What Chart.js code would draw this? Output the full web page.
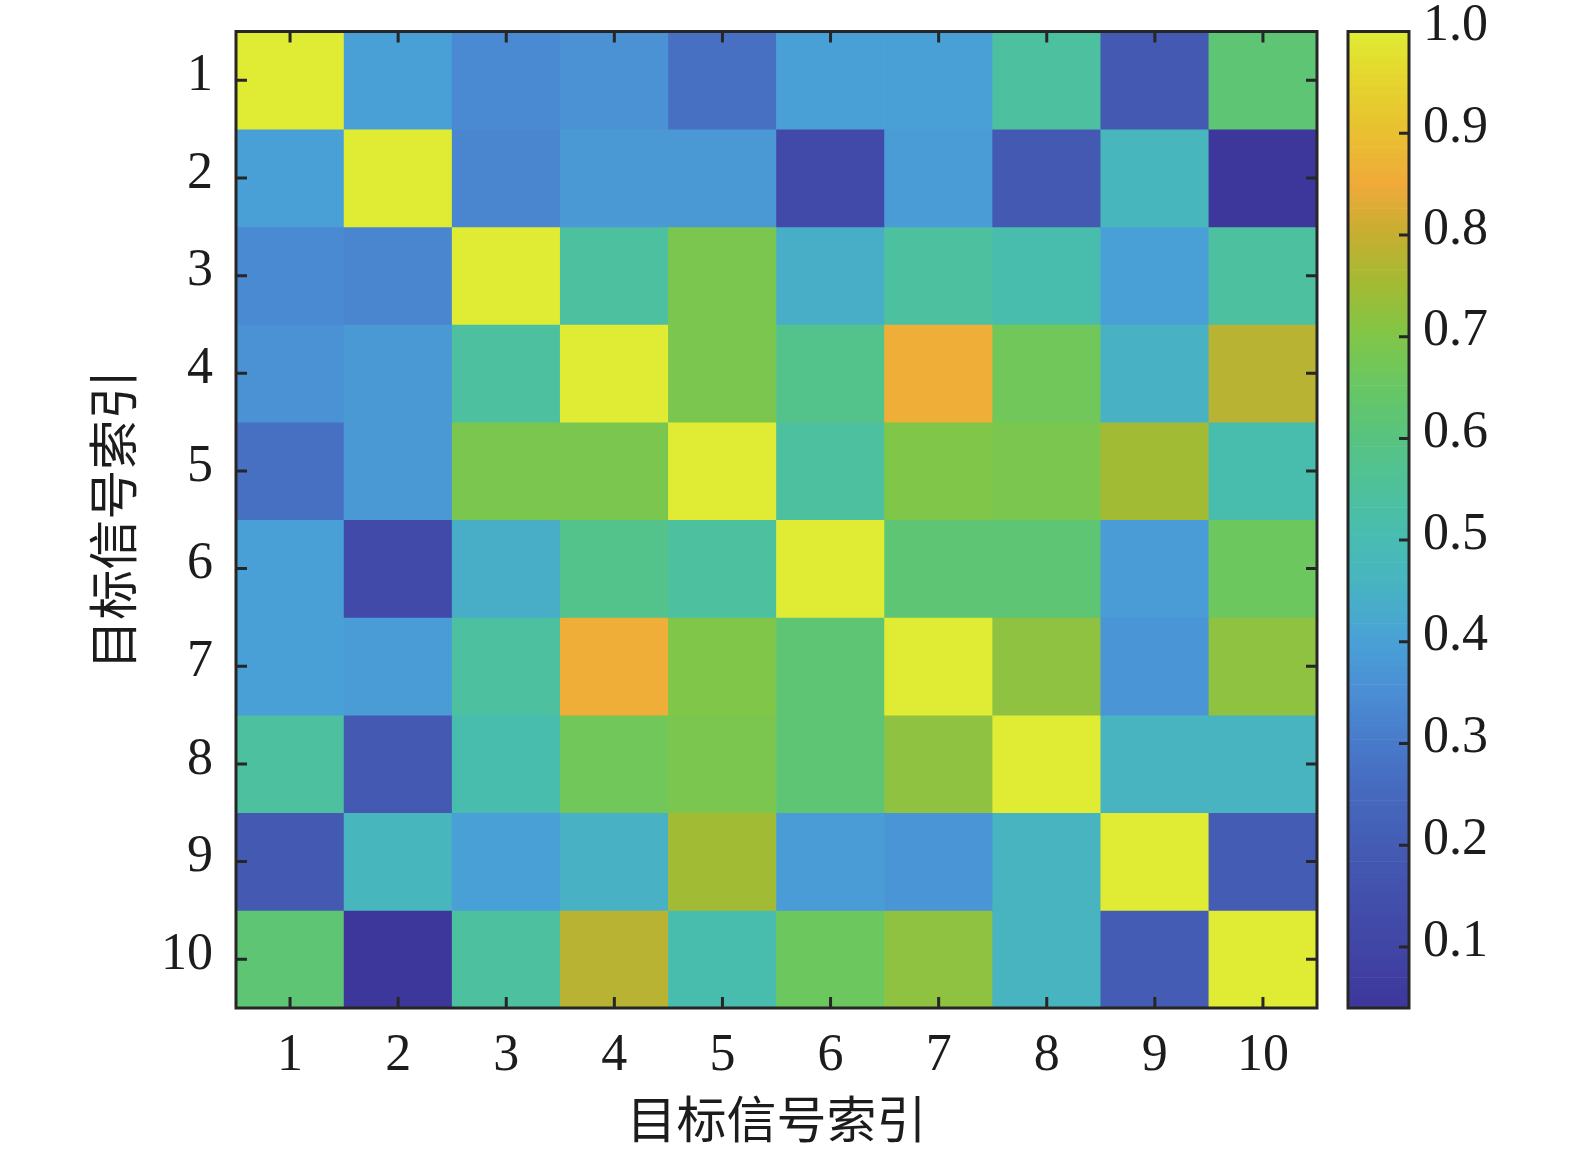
<!DOCTYPE html>
<html>
<head>
<meta charset="utf-8">
<script src="https://cdn.jsdelivr.net/npm/chart.js@4.4.1/dist/chart.umd.min.js"></script>
<style>
html, body { margin: 0; padding: 0; background: #fff; }
#wrap { position: relative; width: 1575px; height: 1151px; }
#wrap canvas { position: absolute; left: 0; top: 0; }
</style>
</head>
<body>
<div id="wrap">
  <canvas id="heat" width="1575" height="1151"></canvas>
  <canvas id="cbar" width="1575" height="1151"></canvas>
</div>
<script>
// categories (signal index on both axes)
const colLabels = ['1', '2', '3', '4', '5', '6', '7', '8', '9', '10'];
const rowLabels = ['1', '2', '3', '4', '5', '6', '7', '8', '9', '10'];

// correlation values (row = y index, col = x index)
const corr = [
  [1.00, 0.40, 0.34, 0.36, 0.27, 0.40, 0.40, 0.54, 0.19, 0.62],
  [0.40, 1.00, 0.33, 0.38, 0.38, 0.12, 0.39, 0.19, 0.47, 0.04],
  [0.34, 0.33, 1.00, 0.54, 0.69, 0.44, 0.54, 0.51, 0.40, 0.54],
  [0.36, 0.38, 0.54, 1.00, 0.69, 0.58, 0.86, 0.67, 0.45, 0.78],
  [0.27, 0.38, 0.69, 0.69, 1.00, 0.54, 0.70, 0.69, 0.75, 0.51],
  [0.40, 0.12, 0.44, 0.58, 0.54, 1.00, 0.62, 0.62, 0.39, 0.66],
  [0.40, 0.39, 0.54, 0.86, 0.70, 0.62, 1.00, 0.72, 0.37, 0.72],
  [0.54, 0.19, 0.51, 0.67, 0.69, 0.62, 0.72, 1.00, 0.46, 0.46],
  [0.19, 0.47, 0.40, 0.45, 0.75, 0.39, 0.37, 0.46, 1.00, 0.20],
  [0.62, 0.04, 0.54, 0.78, 0.51, 0.66, 0.72, 0.46, 0.20, 1.00]
];

// colorbar range and tick labels
const cMin = 0.04;
const cMax = 1.0;
const cbTicks = [0.1, 0.2, 0.3, 0.4, 0.5, 0.6, 0.7, 0.8, 0.9, 1.0];

// parula-like colormap sampled from the colorbar
const cmapVals = [0.04, 0.10, 0.15, 0.20, 0.25, 0.30, 0.35, 0.40, 0.45, 0.50,
                  0.55, 0.60, 0.65, 0.70, 0.75, 0.80, 0.85, 0.90, 0.95, 1.00];
const cmapRGB = [
  [62, 55, 155], [65, 70, 165], [66, 80, 172], [68, 92, 180], [70, 105, 190],
  [72, 122, 202], [75, 142, 212], [73, 160, 214], [72, 178, 196], [72, 188, 178],
  [78, 193, 155], [88, 195, 128], [103, 199, 100], [128, 198, 72], [162, 187, 52],
  [198, 174, 48], [240, 170, 58], [233, 192, 48], [228, 212, 45], [224, 236, 52]
];

function colorFor(v) {
  if (v <= cmapVals[0]) return 'rgb(' + cmapRGB[0].join(',') + ')';
  for (let i = 1; i < cmapVals.length; i++) {
    if (v <= cmapVals[i]) {
      const t = (v - cmapVals[i - 1]) / (cmapVals[i] - cmapVals[i - 1]);
      const a = cmapRGB[i - 1], b = cmapRGB[i];
      const c = a.map((x, k) => Math.round(x + (b[k] - x) * t));
      return 'rgb(' + c.join(',') + ')';
    }
  }
  return 'rgb(' + cmapRGB[cmapRGB.length - 1].join(',') + ')';
}

const axisColor = '#262626';
const textColor = '#1c1c1c';
const serif = '"Liberation Serif", "Times New Roman", serif';
const cjk = '"Noto Sans CJK SC", sans-serif';

// box around the plot area and MATLAB style inward ticks
const framePlugin = {
  id: 'frame',
  afterDatasetsDraw(chart, args, opts) {
    const { ctx, chartArea: a } = chart;
    ctx.save();
    ctx.strokeStyle = axisColor;
    ctx.lineWidth = 3;
    ctx.beginPath();
    for (const id of Object.keys(opts.sides || {})) {
      const s = chart.scales[id];
      const sides = opts.sides[id];
      s.ticks.forEach((t, i) => {
        const p = s.getPixelForTick(i);
        if (s.isHorizontal()) {
          if (sides.includes('top')) { ctx.moveTo(p, a.top); ctx.lineTo(p, a.top + opts.len); }
          if (sides.includes('bottom')) { ctx.moveTo(p, a.bottom); ctx.lineTo(p, a.bottom - opts.len); }
        } else {
          if (sides.includes('left')) { ctx.moveTo(a.left, p); ctx.lineTo(a.left + opts.len, p); }
          if (sides.includes('right')) { ctx.moveTo(a.right, p); ctx.lineTo(a.right - opts.len, p); }
        }
      });
    }
    ctx.stroke();
    ctx.strokeRect(a.left, a.top, a.right - a.left, a.bottom - a.top);
    ctx.restore();
  }
};

// keep the plot box where the layout padding puts it
function fixY(width) {
  return s => { s.width = width; s.paddingTop = 0; s.paddingBottom = 0; };
}

// one stacked dataset per row, each cell is one unit tall
const heatSets = rowLabels.map((r, i) => ({
  label: r,
  data: colLabels.map(() => 1),
  backgroundColor: corr[i].map(colorFor),
  borderWidth: 0,
  barPercentage: 1,
  categoryPercentage: 1
}));

new Chart(document.getElementById('heat'), {
  type: 'bar',
  data: { labels: colLabels, datasets: heatSets },
  plugins: [framePlugin],
  options: {
    responsive: false,
    animation: false,
    events: [],
    layout: { padding: { left: 0, top: 31.5, right: 258, bottom: 0 } },
    plugins: {
      legend: { display: false },
      tooltip: { enabled: false },
      frame: { len: 11, sides: { x: ['top', 'bottom'], y: ['left', 'right'] } }
    },
    scales: {
      x: {
        stacked: true,
        offset: true,
        grid: { display: false },
        border: { display: false },
        ticks: { color: textColor, font: { family: serif, size: 52, lineHeight: 1 }, padding: 14, maxRotation: 0, autoSkip: false },
        title: {
          display: true, text: '目标信号索引', color: textColor,
          font: { family: cjk, size: 50, lineHeight: 1 }, padding: { top: 0, bottom: 7 }
        },
        afterFit: s => { s.height = 143; s.paddingLeft = 0; s.paddingRight = 0; }
      },
      y: {
        stacked: true,
        min: 0,
        max: 10,
        reverse: true,
        grid: { display: false },
        border: { display: false },
        afterBuildTicks: s => { s.ticks = rowLabels.map((l, i) => ({ value: i + 0.5 })); },
        ticks: {
          color: textColor, font: { family: serif, size: 52, lineHeight: 1 }, padding: 15,
          labelOffset: -4, autoSkip: false,
          callback: (v, i) => rowLabels[i]
        },
        title: {
          display: true, text: '目标信号索引', color: textColor,
          font: { family: cjk, size: 50, lineHeight: 1 }, padding: { top: 88, bottom: 0 }
        },
        afterFit: fixY(236)
      }
    }
  }
});

// colorbar: thin floating bars stacked along the value axis
const cbSteps = 160;
const cbSets = [];
for (let k = 0; k < cbSteps; k++) {
  const lo = cMin + (cMax - cMin) * k / cbSteps;
  const hi = cMin + (cMax - cMin) * (k + 1) / cbSteps;
  cbSets.push({
    data: [[lo, hi]],
    backgroundColor: colorFor((lo + hi) / 2),
    borderWidth: 0,
    grouped: false,
    barPercentage: 1,
    categoryPercentage: 1
  });
}

new Chart(document.getElementById('cbar'), {
  type: 'bar',
  data: { labels: [''], datasets: cbSets },
  plugins: [framePlugin],
  options: {
    responsive: false,
    animation: false,
    events: [],
    layout: { padding: { left: 1348, top: 31.5, right: 0, bottom: 143 } },
    plugins: {
      legend: { display: false },
      tooltip: { enabled: false },
      frame: { len: 10, sides: { y: ['right'] } }
    },
    scales: {
      x: { display: false },
      y: {
        position: 'right',
        min: cMin,
        max: cMax,
        grid: { display: false },
        border: { display: false },
        afterBuildTicks: s => { s.ticks = cbTicks.map(v => ({ value: v })); },
        ticks: {
          color: textColor, font: { family: serif, size: 52, lineHeight: 1 }, padding: 6,
          labelOffset: -5, autoSkip: false,
          callback: v => v.toFixed(1)
        },
        afterFit: fixY(166)
      }
    }
  }
});
</script>
</body>
</html>
